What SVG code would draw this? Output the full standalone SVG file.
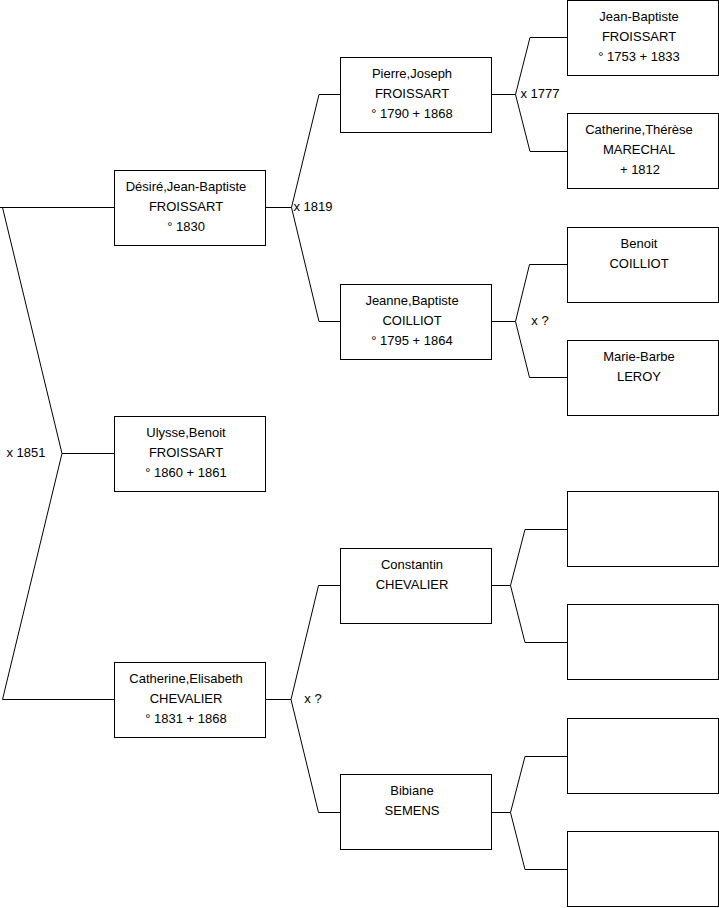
<svg xmlns="http://www.w3.org/2000/svg" width="719" height="908" viewBox="0 0 719 908">
<style>
.box{fill:#fff;stroke:#000;stroke-width:1}
.ln{fill:none;stroke:#000;stroke-width:1}
text{font-family:"Liberation Sans",Arial,sans-serif;font-size:13px;fill:#000}
.c{text-anchor:middle}
</style>
<rect width="719" height="908" fill="#fff"/>
<g id="connectors">
<polyline class="ln" points="0,207.5 114.5,207.5"/>
<polyline class="ln" points="2.5,207.5 62,453.5 2.5,699.5"/>
<polyline class="ln" points="62,453.5 114.5,453.5"/>
<polyline class="ln" points="2.5,699.5 114.5,699.5"/>
<polyline class="ln" points="265.5,207.5 291.5,207.5"/>
<polyline class="ln" points="340.5,94.5 319,94.5 291.5,207.5 319,321.5 340.5,321.5"/>
<polyline class="ln" points="265.5,699.5 291,699.5"/>
<polyline class="ln" points="340.5,585.5 318.5,585.5 291,699.5 318.5,812.5 340.5,812.5"/>
<polyline class="ln" points="491.5,94.5 515.5,94.5"/>
<polyline class="ln" points="567.5,37.5 530,37.5 515.5,94.5 530,151.5 567.5,151.5"/>
<polyline class="ln" points="491.5,321.5 515.5,321.5"/>
<polyline class="ln" points="567.5,264.5 529.5,264.5 515.5,321.5 529.5,377.5 567.5,377.5"/>
<polyline class="ln" points="491.5,585.5 510.5,585.5"/>
<polyline class="ln" points="567.5,529.5 525,529.5 510.5,585.5 525,642.5 567.5,642.5"/>
<polyline class="ln" points="491.5,812.5 510.5,812.5"/>
<polyline class="ln" points="567.5,756.5 525,756.5 510.5,812.5 525,869.5 567.5,869.5"/>
<text class="c" x="26" y="457">x 1851</text>
<text class="c" x="313" y="211">x 1819</text>
<text class="c" x="313" y="702.5">x ?</text>
<text class="c" x="540" y="97.5">x 1777</text>
<text class="c" x="540" y="324.5">x ?</text>
</g>
<g id="desire">
<rect class="box" x="114.5" y="170.5" width="151" height="75"/>
<text class="c" x="186" y="191">Désiré,Jean-Baptiste</text>
<text class="c" x="186" y="211">FROISSART</text>
<text class="c" x="186" y="231">° 1830</text>
</g>
<g id="ulysse">
<rect class="box" x="114.5" y="416.5" width="151" height="75"/>
<text class="c" x="186" y="437">Ulysse,Benoit</text>
<text class="c" x="186" y="457">FROISSART</text>
<text class="c" x="186" y="477">° 1860 + 1861</text>
</g>
<g id="catherine-elisabeth">
<rect class="box" x="114.5" y="662.5" width="151" height="75"/>
<text class="c" x="186" y="683">Catherine,Elisabeth</text>
<text class="c" x="186" y="703">CHEVALIER</text>
<text class="c" x="186" y="723">° 1831 + 1868</text>
</g>
<g id="pierre">
<rect class="box" x="340.5" y="57.5" width="151" height="75"/>
<text class="c" x="412" y="78">Pierre,Joseph</text>
<text class="c" x="412" y="98">FROISSART</text>
<text class="c" x="412" y="118">° 1790 + 1868</text>
</g>
<g id="jeanne">
<rect class="box" x="340.5" y="284.5" width="151" height="75"/>
<text class="c" x="412" y="305">Jeanne,Baptiste</text>
<text class="c" x="412" y="325">COILLIOT</text>
<text class="c" x="412" y="345">° 1795 + 1864</text>
</g>
<g id="constantin">
<rect class="box" x="340.5" y="548.5" width="151" height="75"/>
<text class="c" x="412" y="569">Constantin</text>
<text class="c" x="412" y="589">CHEVALIER</text>
</g>
<g id="bibiane">
<rect class="box" x="340.5" y="774.5" width="151" height="75"/>
<text class="c" x="412" y="795">Bibiane</text>
<text class="c" x="412" y="815">SEMENS</text>
</g>
<g id="jean-baptiste">
<rect class="box" x="567.5" y="0.5" width="151" height="75"/>
<text class="c" x="639" y="21">Jean-Baptiste</text>
<text class="c" x="639" y="41">FROISSART</text>
<text class="c" x="639" y="61">° 1753 + 1833</text>
</g>
<g id="catherine-therese">
<rect class="box" x="567.5" y="113.5" width="151" height="75"/>
<text class="c" x="639" y="134">Catherine,Thérèse</text>
<text class="c" x="639" y="154">MARECHAL</text>
<text class="c" x="640" y="174">+ 1812</text>
</g>
<g id="benoit">
<rect class="box" x="567.5" y="227.5" width="151" height="75"/>
<text class="c" x="639" y="248">Benoit</text>
<text class="c" x="639" y="268">COILLIOT</text>
</g>
<g id="marie-barbe">
<rect class="box" x="567.5" y="340.5" width="151" height="75"/>
<text class="c" x="639" y="361">Marie-Barbe</text>
<text class="c" x="639" y="381">LEROY</text>
</g>
<g id="empty1"><rect class="box" x="567.5" y="491.5" width="151" height="75"/></g>
<g id="empty2"><rect class="box" x="567.5" y="604.5" width="151" height="75"/></g>
<g id="empty3"><rect class="box" x="567.5" y="718.5" width="151" height="75"/></g>
<g id="empty4"><rect class="box" x="567.5" y="831.5" width="151" height="75"/></g>
</svg>
